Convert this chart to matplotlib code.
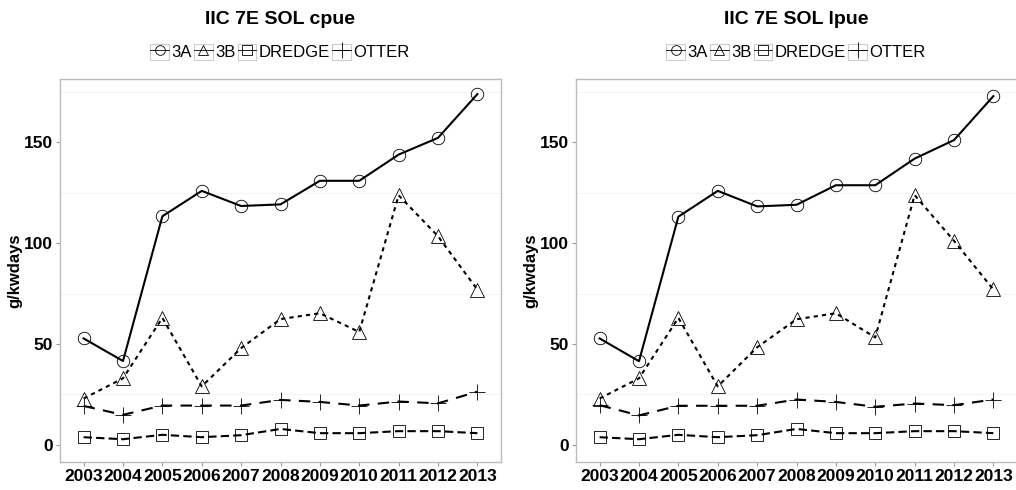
import matplotlib
matplotlib.use("Agg")
import matplotlib.pyplot as plt
from matplotlib.lines import Line2D
from matplotlib.patches import Rectangle
from matplotlib.legend_handler import HandlerTuple

plt.rcParams['font.family'] = ['Liberation Sans', 'DejaVu Sans']

years = [2003, 2004, 2005, 2006, 2007, 2008, 2009, 2010, 2011, 2012, 2013]
series = ['3A', '3B', 'DREDGE', 'OTTER']

cpue_3a = [52.8, 41.6, 113.4, 126.0, 118.5, 119.3, 131.0, 131.0, 144.0, 152.3, 174.0]
cpue_3b = [23.0, 33.0, 63.0, 29.0, 48.0, 62.4, 65.3, 56.0, 123.8, 103.5, 77.0]
cpue_dredge = [3.8, 2.8, 5.0, 3.8, 4.8, 7.9, 5.8, 5.8, 6.8, 6.8, 5.8]
cpue_otter = [19.3, 14.9, 19.5, 19.5, 19.5, 22.3, 21.3, 19.5, 21.5, 20.6, 26.4]

lpue_3a = [52.8, 41.5, 113.2, 126.0, 118.3, 119.1, 128.8, 128.8, 142.0, 151.2, 173.0]
lpue_3b = [23.0, 33.0, 63.0, 29.0, 48.4, 62.3, 65.3, 53.3, 123.9, 101.2, 77.1]
lpue_dredge = [3.8, 2.8, 5.0, 3.8, 4.8, 7.9, 5.8, 5.8, 6.8, 6.8, 5.8]
lpue_otter = [19.7, 14.6, 19.4, 19.4, 19.4, 22.5, 21.3, 18.9, 20.5, 19.7, 22.5]

styles = {
    '3A': dict(marker='o', ls='-', ms=9),
    '3B': dict(marker='^', ls=(0, (2, 2)), ms=10),
    'DREDGE': dict(marker='s', ls=(0, (4, 2)), ms=9),
    'OTTER': dict(marker='+', ls=(0, (5.5, 4)), ms=12),
}

fig = plt.figure(figsize=(10.16, 4.9), dpi=100)
panels = [
    ('IIC 7E SOL cpue', [cpue_3a, cpue_3b, cpue_dredge, cpue_otter], 60),
    ('IIC 7E SOL lpue', [lpue_3a, lpue_3b, lpue_dredge, lpue_otter], 576),
]

for title, data, left in panels:
    ax = fig.add_axes([left / 1016, 28 / 490, 441 / 1016, 383 / 490])
    for name, vals in zip(series, data):
        st = styles[name]
        ax.plot(years, vals, ls='none', marker=st['marker'], ms=st['ms'],
                mfc='none', mec='black', mew=0.6)
        ax.plot(years, vals, color='black', lw=1.5, ls=st['ls'])
    ax.set_xlim(2002.4, 2013.6)
    ax.set_ylim(-8.5, 181.5)
    ax.set_xticks(years)
    ax.set_yticks([0, 50, 100, 150])
    ax.set_yticks([25, 75, 125, 175], minor=True)
    ax.grid(which='minor', axis='y', color='#f4f4f4', lw=0.8)
    ax.set_axisbelow(True)
    ax.tick_params(axis='both', which='major', labelsize=12.5, color='#999999',
                   length=3, width=0.8, pad=2)
    ax.tick_params(axis='y', which='minor', length=0)
    for lab in ax.get_xticklabels() + ax.get_yticklabels():
        lab.set_fontweight('bold')
    for sp in ax.spines.values():
        sp.set_color('#bbbbbb')
        sp.set_linewidth(1.0)
    ax.set_ylabel('g/kwdays', fontsize=12, fontweight='bold', labelpad=1)
    cx = (left + 220) / 1016
    fig.text(cx, 1 - 20 / 490, title, ha='center', va='center', fontsize=14, fontweight='bold')
    handles = []
    for n in series:
        box = Rectangle((0, 0), 1, 1, facecolor='white', edgecolor='#cccccc', lw=0.8)
        key = Line2D([], [], color='black', lw=0.6, ls='-', marker=styles[n]['marker'],
                     ms=7 if n != 'OTTER' else 12, mfc='none', mew=0.6)
        handles.append((box, key))
    fig.legend(handles, series, loc='center', bbox_to_anchor=(cx, 1 - 52 / 490), ncol=4,
               frameon=False, fontsize=12, handlelength=1.1, handleheight=1.1,
               handletextpad=0.15, columnspacing=0.15, borderpad=0,
               handler_map={tuple: HandlerTuple(ndivide=1, pad=0)})

fig.savefig('out.png', dpi=100)
